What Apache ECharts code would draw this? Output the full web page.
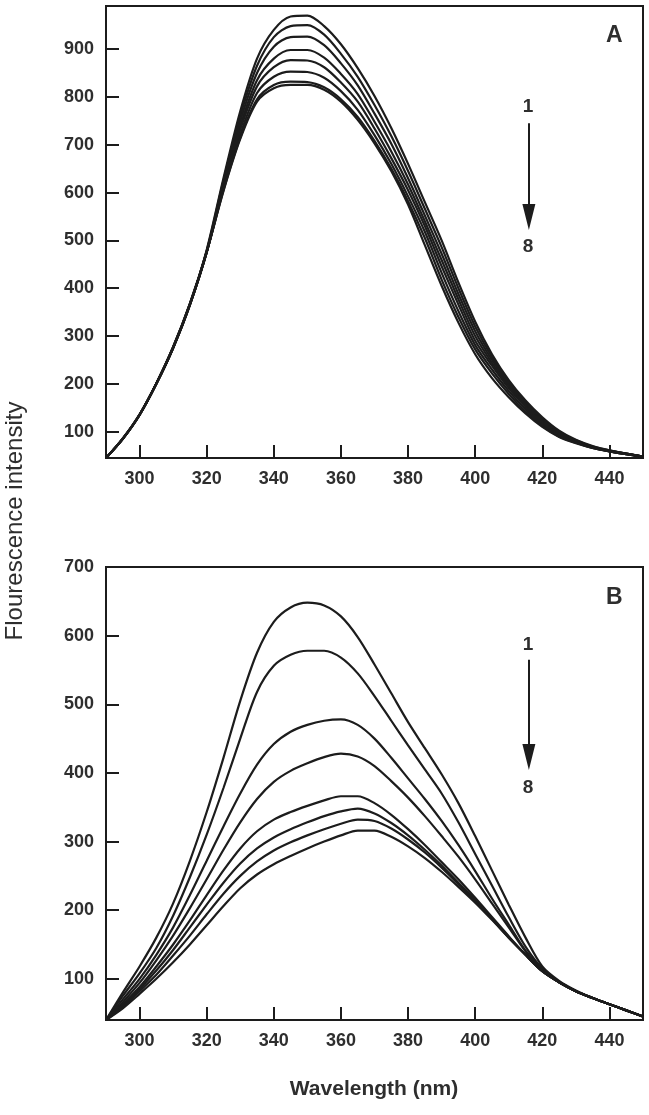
<!DOCTYPE html>
<html><head><meta charset="utf-8">
<script src="https://cdn.jsdelivr.net/npm/echarts@6/dist/echarts.min.js"></script>
<style>html,body{margin:0;padding:0;background:#fff}#c{width:649px;height:1115px}</style>
</head><body><div id="c"></div>
<script>
const wavelengths = [290,295,300,305,310,315,320,325,330,335,340,345,350,355,360,365,370,375,380,385,390,395,400,405,410,415,420,425,430,435,440,445,450];
const xTicks = [300,320,340,360,380,400,420,440];
const yTicksA = [100,200,300,400,500,600,700,800,900];
const yTicksB = [100,200,300,400,500,600,700];

// Panel A spectra (1 -> 8)
const a1 = [45,85,135,200,275,365,480,630,770,880,940,968,970,948,910,860,802,735,660,580,500,412,330,262,208,165,130,102,83,70,61,54,48];
const a2 = [45,85,135,200,275,365,478,625,760,865,925,948,950,930,890,842,783,718,645,566,486,400,320,256,204,162,127,100,82,69,61,54,48];
const a3 = [45,85,135,200,275,365,476,620,750,850,905,925,926,908,870,824,765,702,630,552,472,388,310,250,200,159,124,98,81,68,60,54,48];
const a4 = [45,85,135,200,275,366,475,615,740,835,880,898,898,882,848,806,748,686,617,540,459,377,300,244,196,156,121,96,80,67,60,54,48];
const a5 = [45,85,135,200,276,366,475,612,732,822,862,877,876,862,830,790,734,672,605,530,446,366,290,238,191,152,118,94,79,67,59,53,48];
const a6 = [45,85,136,201,276,367,475,608,722,808,842,853,852,840,812,773,720,660,592,518,432,352,281,230,185,147,115,92,78,66,59,53,48];
const a7 = [45,86,136,201,277,368,476,605,715,795,825,832,831,820,795,758,708,650,582,505,418,340,272,222,179,142,112,90,77,66,59,53,48];
const a8 = [45,86,136,201,277,368,476,603,712,790,818,825,825,815,790,752,703,645,575,490,405,328,262,212,172,138,110,89,76,66,59,53,48];

// Panel B spectra (1 -> 8)
const b1 = [40,80,118,160,210,272,343,422,505,575,620,641,648,644,628,598,558,516,474,436,398,356,308,258,208,160,118,97,83,72,63,54,45];
const b2 = [40,75,108,145,192,248,310,378,450,518,556,572,578,578,568,545,512,476,440,405,370,328,282,236,190,147,115,96,82,72,63,54,45];
const b3 = [40,70,100,135,175,222,272,322,370,412,442,460,470,476,478,470,450,422,392,362,330,295,257,217,179,141,113,95,82,72,63,54,45];
const b4 = [40,66,94,127,163,203,245,288,328,362,387,403,414,423,428,424,410,388,364,337,308,278,245,210,175,140,112,95,82,72,63,54,45];
const b5 = [40,63,88,118,150,185,222,258,290,315,332,343,352,360,366,366,356,339,318,295,270,245,218,190,162,135,111,95,82,72,63,54,45];
const b6 = [40,61,85,112,142,175,208,240,268,290,306,318,328,337,344,348,341,327,309,288,265,240,215,188,161,135,111,95,82,72,63,54,45];
const b7 = [40,59,82,106,134,163,194,224,250,271,287,299,309,318,326,332,330,319,303,284,262,238,213,187,160,135,111,95,82,72,63,54,45];
const b8 = [40,57,78,100,124,150,178,206,232,252,267,279,290,300,309,316,316,307,293,276,256,234,211,186,160,135,111,95,82,72,63,54,45];

const seriesA = [a1,a2,a3,a4,a5,a6,a7,a8];
const seriesB = [b1,b2,b3,b4,b5,b6,b7,b8];

const ink = '#1c1c1c';
const textCol = '#2e2e2e';
const fontFam = 'Liberation Sans, Arial, Helvetica, sans-serif';

function xAxis(gi){
  return {type:'value', gridIndex:gi, min:290, max:450,
    axisLine:{show:true,lineStyle:{color:ink,width:2}},
    axisTick:{show:true,inside:true,length:13,customValues:xTicks,lineStyle:{color:ink,width:2}},
    axisLabel:{customValues:xTicks,margin:12,fontSize:18,fontWeight:'bold',color:textCol,fontFamily:fontFam},
    splitLine:{show:false}};
}
function yAxis(gi,min,max,ticks){
  return {type:'value', gridIndex:gi, min:min, max:max,
    axisLine:{show:true,lineStyle:{color:ink,width:2}},
    axisTick:{show:true,inside:true,length:13,customValues:ticks,lineStyle:{color:ink,width:2}},
    axisLabel:{customValues:ticks,margin:12,fontSize:18,fontWeight:'bold',color:textCol,fontFamily:fontFam},
    splitLine:{show:false}};
}

const series = [];
seriesA.forEach((arr,i)=>{
  series.push({type:'line',xAxisIndex:0,yAxisIndex:0,showSymbol:false,smooth:0.3,
    data:wavelengths.map((w,j)=>[w,arr[j]]),lineStyle:{color:ink,width:2.2},
    markLine: i===0 ? {silent:true,symbol:['none','triangle'],symbolSize:[13,26],
      lineStyle:{color:ink,width:2,type:'solid'},label:{show:false},
      data:[[{coord:[416,745]},{coord:[416,549]}]]} : undefined});
});
seriesB.forEach((arr,i)=>{
  series.push({type:'line',xAxisIndex:1,yAxisIndex:1,showSymbol:false,smooth:0.3,
    data:wavelengths.map((w,j)=>[w,arr[j]]),lineStyle:{color:ink,width:2.2},
    markLine: i===0 ? {silent:true,symbol:['none','triangle'],symbolSize:[13,26],
      lineStyle:{color:ink,width:2,type:'solid'},label:{show:false},
      data:[[{coord:[416,565]},{coord:[416,423]}]]} : undefined});
});

const chart = echarts.init(document.getElementById('c'), null, {renderer:'canvas'});
chart.setOption({
  animation:false,
  backgroundColor:'#fff',
  grid:[
    {left:106,top:6,right:6,height:452,show:true,borderColor:ink,borderWidth:2,backgroundColor:'transparent'},
    {left:106,top:567,right:6,height:453,show:true,borderColor:ink,borderWidth:2,backgroundColor:'transparent'}
  ],
  xAxis:[xAxis(0),xAxis(1)],
  yAxis:[yAxis(0,45,990,yTicksA),yAxis(1,40,700,yTicksB)],
  series:series,
  graphic:[
    {type:'text',left:606,top:24,style:{text:'A',font:'bold 23px '+fontFam,fill:textCol}},
    {type:'text',left:606,top:586,style:{text:'B',font:'bold 23px '+fontFam,fill:textCol}},
    {type:'text',x:528,y:107,style:{text:'1',font:'bold 19px '+fontFam,fill:textCol,align:'center',verticalAlign:'middle'}},
    {type:'text',x:528,y:247,style:{text:'8',font:'bold 19px '+fontFam,fill:textCol,align:'center',verticalAlign:'middle'}},
    {type:'text',x:528,y:645,style:{text:'1',font:'bold 19px '+fontFam,fill:textCol,align:'center',verticalAlign:'middle'}},
    {type:'text',x:528,y:788,style:{text:'8',font:'bold 19px '+fontFam,fill:textCol,align:'center',verticalAlign:'middle'}},
    {type:'text',x:374,y:1089,style:{text:'Wavelength (nm)',font:'bold 21px '+fontFam,fill:textCol,align:'center',verticalAlign:'middle'}},
    {type:'text',x:15,y:521,rotation:Math.PI/2,style:{text:'Flourescence intensity',font:'24px '+fontFam,fill:textCol,align:'center',verticalAlign:'middle'}}
  ]
});
</script></body></html>
